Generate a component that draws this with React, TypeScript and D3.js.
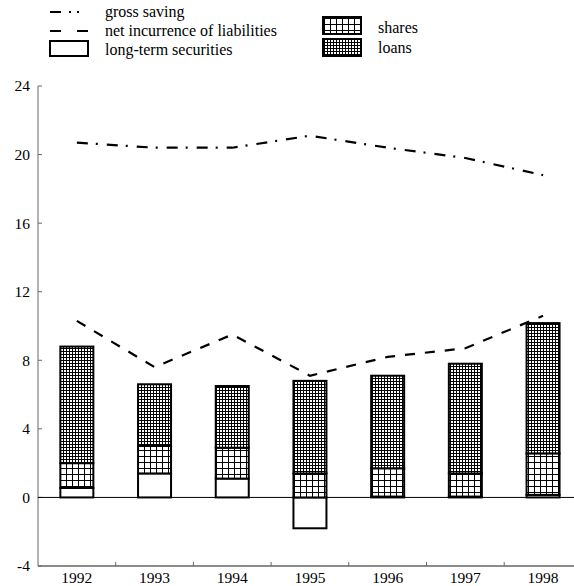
import React from "react";
import * as d3 from "d3";

const years = ["1992", "1993", "1994", "1995", "1996", "1997", "1998"];
const longTermSecurities = [0.55, 1.4, 1.1, -1.8, 0.05, 0.05, 0.15];
const shares = [1.45, 1.6, 1.8, 1.4, 1.65, 1.35, 2.42];
const loans = [6.8, 3.6, 3.6, 5.4, 5.4, 6.4, 7.6];
const grossSaving = [20.7, 20.4, 20.4, 21.1, 20.4, 19.8, 18.8];
const netIncurrence = [10.3, 7.6, 9.5, 7.1, 8.2, 8.7, 10.6];
const yTicks = [-4, 0, 4, 8, 12, 16, 20, 24];

const W = 574;
const H = 586;
const left = 38;
const top = 86;
const bottom = 566;

export default function App() {
  const x = d3.scaleBand<string>().domain(years).range([left, left + 7 * 77.7]).padding(0);
  const y = d3.scaleLinear().domain([-4, 24]).range([bottom, top]);
  const bw = 33;
  const ff = "'Liberation Serif'";

  const line = d3
    .line<number>()
    .x((_, i) => (x(years[i]) as number) + x.bandwidth() / 2)
    .y((d) => y(d));

  const segs: { x: number; y0: number; y1: number; fill: string }[] = [];
  years.forEach((yr, i) => {
    const cx = (x(yr) as number) + x.bandwidth() / 2 - bw / 2;
    const l = longTermSecurities[i];
    segs.push({ x: cx, y0: 0, y1: l, fill: "white" });
    const base = Math.max(l, 0);
    segs.push({ x: cx, y0: base, y1: base + shares[i], fill: "url(#sharesPat)" });
    segs.push({ x: cx, y0: base + shares[i], y1: base + shares[i] + loans[i], fill: "url(#loansPat)" });
  });

  return (
    <svg width={W} height={H} style={{ position: "absolute", left: 0, top: 0, background: "white" }}>
      <defs>
        <pattern id="sharesPat" width={6} height={6} patternUnits="userSpaceOnUse">
          <rect width={6} height={6} fill="white" />
          <path d="M0,0.5H6M0.5,0V6" stroke="black" strokeWidth={1} />
        </pattern>
        <pattern id="loansPat" width={3} height={3} patternUnits="userSpaceOnUse">
          <rect width={3} height={3} fill="white" />
          <path d="M0,0.5H3M0.5,0V3" stroke="black" strokeWidth={1} />
        </pattern>
      </defs>

      <g fontFamily={ff} fontSize={15.5}>
        {/* axes */}
        <line x1={left} x2={left} y1={top} y2={bottom} stroke="#666" strokeWidth={1} />
        <line x1={left} x2={W} y1={bottom} y2={bottom} stroke="#666" strokeWidth={1.5} />
        {yTicks.map((t) => (
          <g key={t}>
            <line x1={left} x2={left + 4} y1={y(t)} y2={y(t)} stroke="#666" />
            <text x={left - 8} y={y(t)} dy="0.35em" textAnchor="end">
              {t}
            </text>
          </g>
        ))}
        {years.map((yr) => (
          <g key={yr}>
            <line
              x1={(x(yr) as number) + x.bandwidth()}
              x2={(x(yr) as number) + x.bandwidth()}
              y1={bottom}
              y2={bottom - 4}
              stroke="#666"
            />
            <text x={(x(yr) as number) + x.bandwidth() / 2} y={bottom + 17} textAnchor="middle">
              {yr}
            </text>
          </g>
        ))}

        {/* zero line */}
        <line x1={left} x2={W} y1={y(0)} y2={y(0)} stroke="black" strokeWidth={1} />

        {/* bars */}
        {segs.map((s, i) => (
          <rect
            key={i}
            x={s.x}
            y={y(Math.max(s.y0, s.y1))}
            width={bw}
            height={Math.abs(y(s.y0) - y(s.y1))}
            fill={s.fill}
            stroke="black"
            strokeWidth={2}
          />
        ))}

        {/* lines */}
        <path d={line(grossSaving) as string} fill="none" stroke="black" strokeWidth={2.2} strokeDasharray="11,8,2,9" />
        <path d={line(netIncurrence) as string} fill="none" stroke="black" strokeWidth={2.2} strokeDasharray="10,10" />
      </g>

      {/* legend */}
      <g fontFamily={ff} fontSize={16}>
        <line x1={50} x2={88} y1={12} y2={12} stroke="black" strokeWidth={2.2} strokeDasharray="11,8,2,6,2,20" />
        <text x={105} y={11} dy="0.35em">gross saving</text>
        <line x1={50} x2={88} y1={31} y2={31} stroke="black" strokeWidth={2.2} strokeDasharray="11,16,11" />
        <text x={105} y={30} dy="0.35em">net incurrence of liabilities</text>
        <rect x={50} y={41} width={38} height={15} fill="white" stroke="black" strokeWidth={2} />
        <text x={105} y={49} dy="0.35em">long-term securities</text>
        <rect x={323} y={17} width={38} height={17} fill="url(#sharesPat)" stroke="black" strokeWidth={2} />
        <text x={378} y={27} dy="0.35em">shares</text>
        <rect x={323} y={39} width={38} height={17} fill="url(#loansPat)" stroke="black" strokeWidth={2} />
        <text x={378} y={47} dy="0.35em">loans</text>
      </g>
    </svg>
  );
}
